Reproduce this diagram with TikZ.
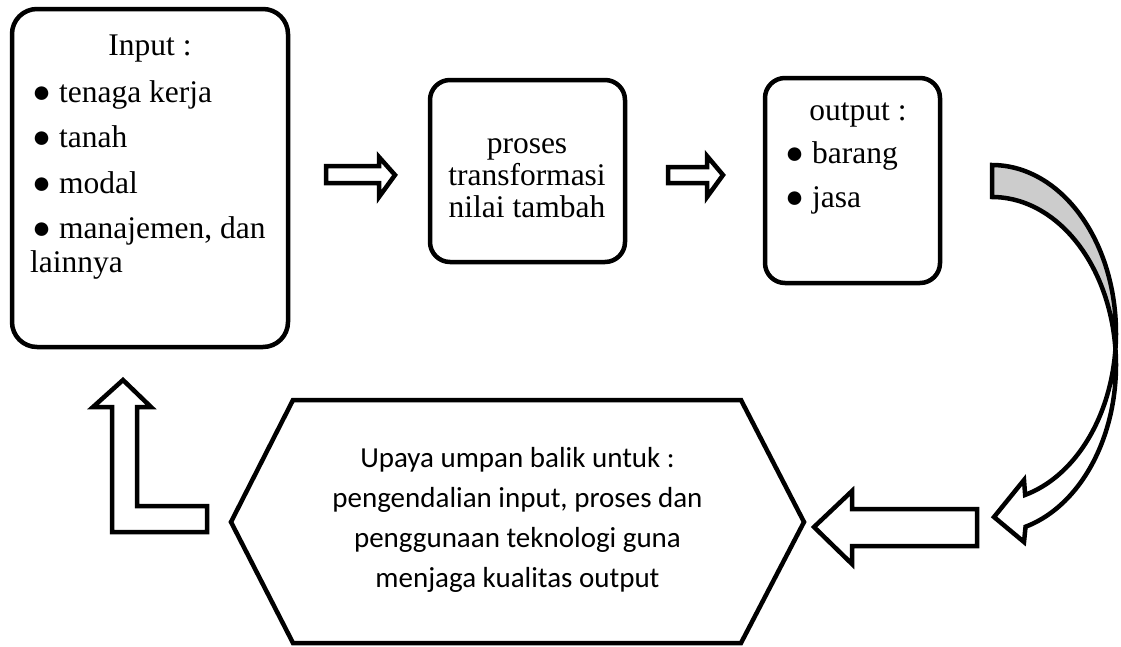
\documentclass[tikz,border=0pt]{standalone}
\usepackage{fontspec}
\setmainfont{Liberation Serif}
\newfontfamily\calib{Carlito}
\begin{document}
\begin{tikzpicture}[x=1pt,y=-1pt,line join=miter,
  box/.style={draw=black,line width=4.5pt},
  blockarrow/.style={draw=black,fill=white,line width=4.5pt},
  sertxt/.style={font=\fontsize{31.5}{33}\selectfont,inner sep=0pt},
  caltxt/.style={font=\calib\fontsize{29}{33}\selectfont,inner sep=0pt,anchor=base}]
\useasboundingbox (0,0) rectangle (1121,646);
% boxes
\draw[box,rounded corners=25pt] (12,9) rectangle (288,347);
\draw[box,rounded corners=20pt] (430,80) rectangle (625,262);
\draw[box,rounded corners=20pt] (765,78) rectangle (940,283);
% input text
\node[sertxt,anchor=base] (inT) at (150,55) {Input :};
\node[sertxt,anchor=base west] (in1) at (32,102) {● tenaga kerja};
\node[sertxt,anchor=base west] (in2) at (32,147) {● tanah};
\node[sertxt,anchor=base west] (in3) at (32,193) {● modal};
\node[sertxt,anchor=base west] (in4) at (32,238) {● manajemen, dan};
\node[sertxt,anchor=base west] (in5) at (30,272) {lainnya};
% proses text
\node[sertxt,anchor=base] (pr1) at (527,153) {proses};
\node[sertxt,anchor=base] (pr2) at (527,185) {transformasi};
\node[sertxt,anchor=base] (pr3) at (527,217) {nilai tambah};
% output text
\node[sertxt,anchor=base] (ouT) at (858,120) {output :};
\node[sertxt,anchor=base west] (ou1) at (785,163) {● barang};
\node[sertxt,anchor=base west] (ou2) at (785,207) {● jasa};
% right arrows
\draw[blockarrow] (326,166) -- (379,166) -- (379,157) -- (395,175) -- (379,197) -- (379,183) -- (326,183) -- cycle;
\draw[blockarrow] (668,167) -- (707,167) -- (707,156) -- (723,175) -- (707,197) -- (707,183) -- (668,183) -- cycle;
% up L arrow
\draw[blockarrow] (123,380) -- (151,407) -- (137,407) -- (137,506) -- (207,506) -- (207,532) -- (112,532) -- (112,407) -- (93,407) -- cycle;
% left arrow
\draw[blockarrow] (814,527) -- (852,491) -- (852,509) -- (977,509) -- (977,546) -- (852,546) -- (852,564) -- cycle;
% hexagon
\draw[box,fill=white] (293,400) -- (741,400) -- (804,522) -- (741,643) -- (293,643) -- (231,522) -- cycle;
\node[caltxt] (h1) at (517.5,467) {Upaya umpan balik untuk :};
\node[caltxt] (h2) at (517.5,507) {pengendalian input, proses dan};
\node[caltxt] (h3) at (517.5,547) {penggunaan teknologi guna};
\node[caltxt] (h4) at (517.5,587) {menjaga kualitas output};
% curved arrow
\draw[line width=4.5pt,fill=black!20] plot[domain=-90:5.47,samples=60] ({992+124*cos(\x)},{333+168*sin(\x)})
  -- plot[domain=-5.47:-90,samples=60] ({992+124*cos(\x)},{365+168*sin(\x)}) -- cycle;
\draw[line width=4.5pt,fill=white] plot[domain=-5.47:74.3,samples=60] ({992+124*cos(\x)},{365+168*sin(\x)})
  -- (1024,542) -- (994,517) -- (1024,480)
  -- plot[domain=74.5:5.47,samples=60] ({992+124*cos(\x)},{333+168*sin(\x)}) -- cycle;
\end{tikzpicture}
\end{document}
